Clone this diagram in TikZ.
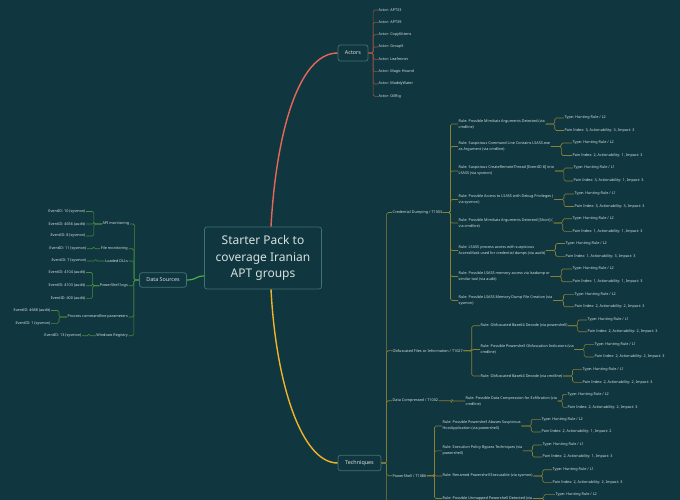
\documentclass[tikz,border=0pt]{standalone}
\usepackage{fontspec}
\setmainfont{Noto Sans}
\usetikzlibrary{calc,positioning}
\definecolor{BgClr}{RGB}{16,54,63}
\definecolor{BoxClr}{RGB}{64,116,114}
\definecolor{TxtClr}{RGB}{214,224,224}
\definecolor{ActorClr}{RGB}{232,104,88}
\definecolor{SourceClr}{RGB}{84,172,72}
\definecolor{TechClr}{RGB}{240,180,40}
\definecolor{ActorLineClr}{RGB}{150,84,70}
\definecolor{SourceLineClr}{RGB}{70,140,64}
\definecolor{TechLineClr}{RGB}{135,128,56}

\tikzset{
  topic/.style={draw=BoxClr,line width=0.7pt,rounded corners=2.5pt,fill=BgClr,text=TxtClr,
    font=\fontsize{5.4}{6}\selectfont,inner sep=0pt},
  leaf/.style={text=TxtClr,font=\fontsize{3.75}{6}\selectfont,inner sep=0.5pt,align=left,anchor=west},
  leafl/.style={leaf,align=right,anchor=east},
  brace/.style={rounded corners=1.5pt,
    to path={let \p1=(\tikztostart),\p2=(\tikztotarget) in -- ({(\x1+\x2)/2},\y1) |- (\tikztotarget)}},
}

\begin{document}
\begin{tikzpicture}[x=1pt,y=-1pt]
\fill[BgClr] (0,0) rectangle (680,500);
\clip (0,0) rectangle (680,500);

\node[topic,minimum width=117pt,minimum height=62pt,align=center,
  font=\fontsize{12}{16.5}\selectfont] (root) at (263,258) {Starter Pack to\\coverage Iranian\\APT groups};

\node[topic,minimum width=30pt,minimum height=16pt] (actors) at (353,53) {Actors};
\node[topic,minimum width=47pt,minimum height=14.5pt] (sources) at (163,280) {Data Sources};
\node[topic,minimum width=43pt,minimum height=15.5pt] (techniques) at (359.5,463) {Techniques};

\draw[ActorClr,line width=1.4pt] ($(root.north)+(8,0)$) .. controls (276,135) and (298,53) .. (actors.west);
\draw[TechClr,line width=1.4pt] ($(root.south)+(8,0)$) .. controls (276,385) and (302,463) .. (techniques.west);
\draw[SourceClr,line width=1.2pt] ($(root.west)+(0,18)$) .. controls (195,276) and (197,280) .. (sources.east);

% actors
\foreach \name [count=\i] in {APT33,APT39,CopyKittens,Group5,Leafminer,Magic Hound,MuddyWater,OilRig}
  \node[leaf] (actor\i) at (378,{10+12.33*(\i-1)}) {Actor: \name};
\foreach \i in {1,...,8}
  \draw[ActorLineClr,line width=0.6pt] (actors.east) to[brace] (actor\i.west);

% data sources
\node[leafl] (api) at (130,224) {API monitoring};
\node[leafl] (file) at (128.5,248.7) {File monitoring};
\node[leafl] (dll) at (128.5,261) {Loaded DLLs};
\node[leafl] (pslog) at (128.5,285.7) {PowerShell logs};
\node[leafl] (cmdline) at (128.5,317) {Process commandline parameters};
\node[leafl] (registry) at (128.5,335.7) {Windows Registry};

\node[leafl] (ev10) at (86,211.5) {EventID: 10 (sysmon)};
\node[leafl] (ev4656) at (86,224) {EventID: 4656 (audit)};
\node[leafl] (ev8) at (86,236) {EventID: 8 (sysmon)};
\node[leafl] (ev11) at (87,248.7) {EventID: 11 (sysmon)};
\node[leafl] (ev7) at (87,261) {EventID: 7 (sysmon)};
\node[leafl] (ev4104) at (86,272.5) {EventID: 4104 (audit)};
\node[leafl] (ev4103) at (86,285.7) {EventID: 4103 (audit)};
\node[leafl] (ev400) at (86,298.3) {EventID: 400 (audit)};
\node[leafl] (ev4688) at (51,310.5) {EventID: 4688 (audit)};
\node[leafl] (ev1) at (51,323.3) {EventID: 1 (sysmon)};
\node[leafl] (ev13) at (82,335.7) {EventID: 13 (sysmon)};

\begin{scope}[SourceLineClr,line width=0.6pt]
\foreach \c in {api,file,dll,pslog,cmdline,registry}
  \draw (sources.west) to[brace] (\c.east);
\foreach \p/\c in {api/ev10,api/ev4656,api/ev8,file/ev11,dll/ev7,pslog/ev4104,pslog/ev4103,
  pslog/ev400,cmdline/ev4688,cmdline/ev1,registry/ev13}
  \draw (\p.west) to[brace] (\c.east);
\end{scope}

% techniques
\node[leaf] (cd) at (392,212.5) {Credential Dumping / T1003};
\node[leaf] (of) at (392,350.7) {Obfuscated Files or Information / T1027};
\node[leaf] (dc) at (392,400.7) {Data Compressed / T1002};
\node[leaf] (ps) at (392,475.7) {PowerShell / T1086};
\coordinate (techmore) at (392,530);

\node[leaf] (cd1) at (458,124) {Rule: Possible Mimikatz Arguments Detected (via\\cmdline)};
\node[leaf] (cd1-t) at (564,118) {Type: Hunting Rule / L2};
\node[leaf] (cd1-p) at (564,130.5) {Pain Index: 3, Actionability: 3, Impact: 3};
\node[leaf] (cd2) at (458,146.5) {Rule: Suspicious Command Line Contains LSASS.exe\\as Argument (via cmdline)};
\node[leaf] (cd2-t) at (572,143) {Type: Hunting Rule / L2};
\node[leaf] (cd2-p) at (572,155.5) {Pain Index: 2, Actionability: 1, Impact: 3};
\node[leaf] (cd3) at (458,171) {Rule: Suspicious CreateRemoteThread [EventID 8] into\\LSASS (via sysmon)};
\node[leaf] (cd3-t) at (573,168) {Type: Hunting Rule / L1};
\node[leaf] (cd3-p) at (573,181) {Pain Index: 3, Actionability: 1, Impact: 3};
\node[leaf] (cd4) at (458,199.5) {Rule: Possible Access to LSASS with Debug Privileges (\\via sysmon)};
\node[leaf] (cd4-t) at (574,194) {Type: Hunting Rule / L1};
\node[leaf] (cd4-p) at (574,206.5) {Pain Index: 3, Actionability: 3, Impact: 3};
\node[leaf] (cd5) at (458,223) {Rule: Possible Mimikatz Arguments Detected [Short] (\\via cmdline)};
\node[leaf] (cd5-t) at (572,218.7) {Type: Hunting Rule / L2};
\node[leaf] (cd5-p) at (572,231.3) {Pain Index: 1, Actionability: 1, Impact: 3};
\node[leaf] (cd6) at (458,250.5) {Rule: LSASS process access with suspicious\\AccessMask used for credential dumps (via audit)};
\node[leaf] (cd6-t) at (565,243.5) {Type: Hunting Rule / L2};
\node[leaf] (cd6-p) at (565,256.3) {Pain Index: 1, Actionability: 3, Impact: 3};
\node[leaf] (cd7) at (458,276.5) {Rule: Possible LSASS memory access via lsadump or\\similar tool (via audit)};
\node[leaf] (cd7-t) at (572,269) {Type: Hunting Rule / L2};
\node[leaf] (cd7-p) at (572,281.7) {Pain Index: 1, Actionability: 1, Impact: 3};
\node[leaf] (cd8) at (458,300.5) {Rule: Possible LSASS Memory Dump File Creation (via\\sysmon)};
\node[leaf] (cd8-t) at (574,294.3) {Type: Hunting Rule / L2};
\node[leaf] (cd8-p) at (574,306.7) {Pain Index: 2, Actionability: 2, Impact: 3};

\node[leaf] (of1) at (480,325.7) {Rule: Obfuscated Base64 Decode (via powershell)};
\node[leaf] (of1-t) at (587,320) {Type: Hunting Rule / L1};
\node[leaf] (of1-p) at (587,331.7) {Pain Index: 2, Actionability: 2, Impact: 3};
\node[leaf] (of2) at (480,349.5) {Rule: Possible Powershell Obfuscation Indicators (via\\cmdline)};
\node[leaf] (of2-t) at (594,344.3) {Type: Hunting Rule / L1};
\node[leaf] (of2-p) at (594,357) {Pain Index: 2, Actionability: 2, Impact: 3};
\node[leaf] (of3) at (480,376) {Rule: Obfuscated Base64 Decode (via cmdline)};
\node[leaf] (of3-t) at (582,369.3) {Type: Hunting Rule / L1};
\node[leaf] (of3-p) at (582,382.3) {Pain Index: 2, Actionability: 2, Impact: 3};

\node[leaf] (dc1) at (465,401) {Rule: Possible Data Compression for Exfiltration (via\\cmdline)};
\node[leaf] (dc1-t) at (567,394.3) {Type: Hunting Rule / L2};
\node[leaf] (dc1-p) at (567,407.3) {Pain Index: 2, Actionability: 2, Impact: 3};

\node[leaf] (ps1) at (442,426) {Rule: Possible Powershell Abuses Suspicious\\HostApplication (via powershell)};
\node[leaf] (ps1-t) at (541,419.3) {Type: Hunting Rule / L2};
\node[leaf] (ps1-p) at (541,432) {Pain Index: 2, Actionability: 1, Impact: 2};
\node[leaf] (ps2) at (442,450.8) {Rule: Execution Policy Bypass Techniques (via\\powershell)};
\node[leaf] (ps2-t) at (542,445) {Type: Hunting Rule / L1};
\node[leaf] (ps2-p) at (542,457) {Pain Index: 2, Actionability: 1, Impact: 3};
\node[leaf] (ps3) at (442,476) {Rule: Renamed Powershell Executable (via sysmon)};
\node[leaf] (ps3-t) at (552,469.7) {Type: Hunting Rule / L1};
\node[leaf] (ps3-p) at (552,482.3) {Pain Index: 2, Actionability: 2, Impact: 3};
\node[leaf] (ps4) at (442,498.5) {Rule: Possible Unmapped Powershell Detected (via};
\node[leaf] (ps4-t) at (555,494.3) {Type: Hunting Rule / L2};
\coordinate (ps4-p) at (555,507);

\begin{scope}[TechLineClr,line width=0.6pt]
\foreach \c in {cd,of,dc,ps}
  \draw (techniques.east) to[brace] (\c.west);
\draw (techniques.east) to[brace] (techmore);
\foreach \i in {1,...,8}
  \draw (cd.east) to[brace] (cd\i.west);
\foreach \i in {1,2,3}
  \draw (of.east) to[brace] (of\i.west);
\draw (dc.east) to[brace] (dc1.west);
\foreach \i in {1,...,4}
  \draw (ps.east) to[brace] (ps\i.west);
\foreach \rn in {cd1,cd2,cd3,cd4,cd5,cd6,cd7,cd8,of1,of2,of3,dc1,ps1,ps2,ps3,ps4}
  \draw (\rn.east) to[brace] (\rn-t.west);
\foreach \rn in {cd1,cd2,cd3,cd4,cd5,cd6,cd7,cd8,of1,of2,of3,dc1,ps1,ps2,ps3}
  \draw (\rn.east) to[brace] (\rn-p.west);
\draw (ps4.east) to[brace] (ps4-p);
\end{scope}
\end{tikzpicture}
\end{document}
